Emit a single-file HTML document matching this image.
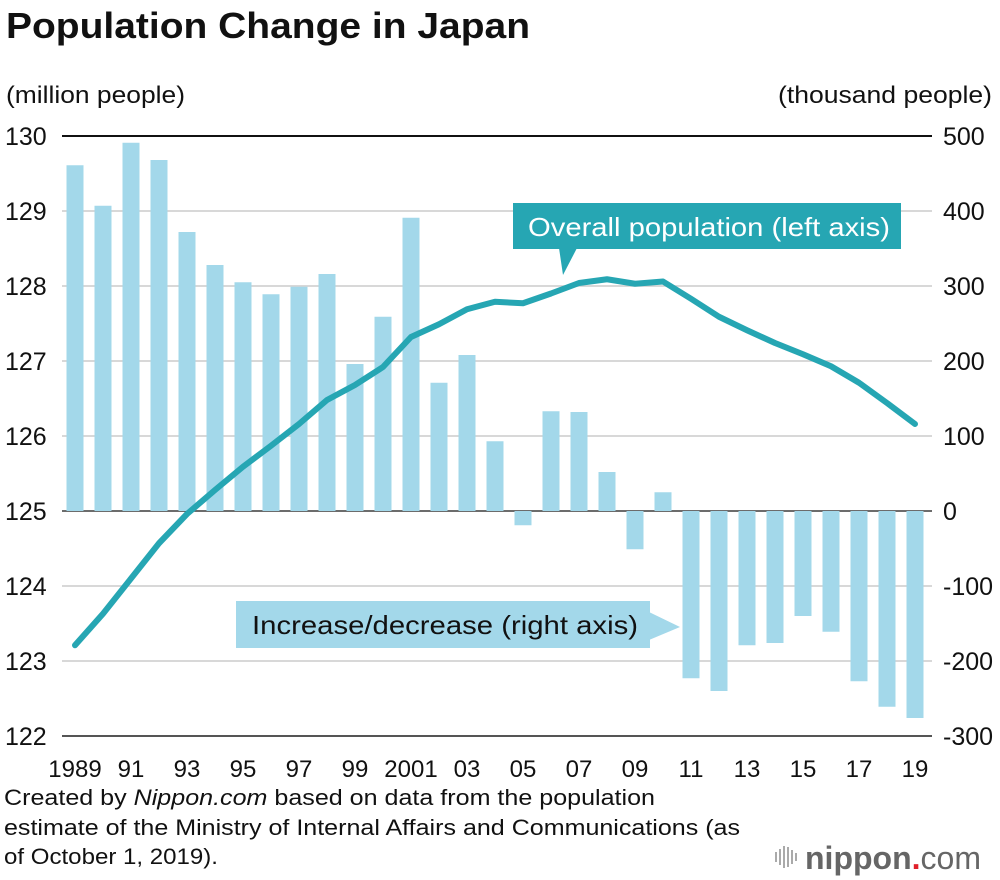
<!DOCTYPE html>
<html><head><meta charset="utf-8"><style>
body{margin:0;background:#fff;font-family:"Liberation Sans",sans-serif;}
svg{display:block}
</style></head><body>
<svg id="c" width="1000" height="880" xmlns="http://www.w3.org/2000/svg" font-family="Liberation Sans, sans-serif">
<text x="6" y="38" font-size="36" font-weight="bold" fill="#111" textLength="524" lengthAdjust="spacingAndGlyphs">Population Change in Japan</text>
<text x="6" y="103" font-size="24" fill="#111" textLength="179" lengthAdjust="spacingAndGlyphs">(million people)</text>
<text x="778" y="103" font-size="24" fill="#111" textLength="214" lengthAdjust="spacingAndGlyphs">(thousand people)</text>
<g id="grid"></g><g id="bars"></g><g id="line"></g><g id="ticks"></g>
<g>
<rect x="513" y="203" width="388" height="46" fill="#26a6b3"/>
<polygon points="559,248 577,248 563,275" fill="#26a6b3"/>
<text x="528" y="236" font-size="26" fill="#fff" textLength="362" lengthAdjust="spacingAndGlyphs">Overall population (left axis)</text>
</g>
<g>
<rect x="236" y="601" width="414" height="47" fill="#a3d8ea"/>
<polygon points="649,612 649,640 680,627" fill="#a3d8ea"/>
<text x="252" y="634" font-size="26" fill="#111" textLength="386" lengthAdjust="spacingAndGlyphs">Increase/decrease (right axis)</text>
</g>
<g font-size="22" fill="#111">
<text x="4" y="805" textLength="651" lengthAdjust="spacingAndGlyphs">Created by <tspan font-style="italic">Nippon.com</tspan> based on data from the population</text>
<text x="4" y="835" textLength="736" lengthAdjust="spacingAndGlyphs">estimate of the Ministry of Internal Affairs and Communications (as</text>
<text x="4" y="864" textLength="214" lengthAdjust="spacingAndGlyphs">of October 1, 2019).</text>
</g>
<g>
<g fill="#aaa"><rect x="775" y="852" width="2" height="10"/><rect x="779" y="849" width="2" height="16"/><rect x="783" y="846" width="2" height="22"/><rect x="787" y="847" width="2" height="20"/><rect x="791" y="850" width="2" height="14"/><rect x="795" y="853" width="2" height="8"/></g>
<text x="805" y="869" font-size="32" fill="#666" font-weight="bold">nippon<tspan fill="#e0202a">.</tspan><tspan font-weight="normal">com</tspan></text>
</g>
</svg>
<script>
const years=[1989,1990,1991,1992,1993,1994,1995,1996,1997,1998,1999,2000,2001,2002,2003,2004,2005,2006,2007,2008,2009,2010,2011,2012,2013,2014,2015,2016,2017,2018,2019];
const change=[461,407,491,468,372,328,305,289,299,316,196,259,391,171,208,93,-19,133,132,52,-51,25,-223,-240,-179,-176,-140,-161,-227,-261,-276];
const population=[123.21,123.63,124.10,124.57,124.96,125.28,125.59,125.87,126.16,126.48,126.68,126.92,127.32,127.49,127.69,127.79,127.77,127.90,128.04,128.09,128.03,128.06,127.83,127.59,127.41,127.24,127.09,126.93,126.71,126.44,126.16];
const leftTicks=[122,123,124,125,126,127,128,129,130];
const rightTicks=[-300,-200,-100,0,100,200,300,400,500];
const xLabels=["1989","91","93","95","97","99","2001","03","05","07","09","11","13","15","17","19"];
const NS="http://www.w3.org/2000/svg";
const x=i=>75+i*28;
const yL=v=>136+(130-v)*75;
const yR=v=>511-v*0.75;
function mk(t,a,p){const e=document.createElementNS(NS,t);for(const k in a)e.setAttribute(k,a[k]);document.getElementById(p).appendChild(e);return e;}
leftTicks.forEach(v=>{
  const dark=(v===130||v===122);
  const g=mk('line',{x1:62,x2:932,y1:yL(v),y2:yL(v),stroke:v===130?'#111':(v===122?'#555':'#ccc'),'stroke-width':dark?2:1.5},'grid');
  
  
  const t=mk('text',{x:5,y:yL(v)+9,'font-size':25,fill:'#111'},'ticks');t.textContent=v;
  
  
});
rightTicks.forEach(v=>{
  const t=mk('text',{x:943,y:yR(v)+9,'font-size':25,fill:'#111'},'ticks');t.textContent=v;
  
  
});
const z=mk('line',{x1:62,x2:932,y1:yR(0),y2:yR(0),stroke:'#444','stroke-width':1.5},'grid');


years.forEach((yr,i)=>{
  const v=change[i];const y0=yR(0),y1=yR(v);
  const b=mk('rect',{x:x(i)-8.5,width:17,y:Math.min(y0,y1),height:Math.abs(y1-y0),fill:'#a3d8ea'},'bars');
  
  
});
xLabels.forEach((l,k)=>{
  const t=mk('text',{x:x(k*2),y:777,'font-size':24,fill:'#111','text-anchor':'middle'},'ticks');t.textContent=l;
  
  
});
const p=mk('polyline',{points:population.map((v,i)=>x(i)+','+yL(v)).join(' '),fill:'none',stroke:'#26a6b3','stroke-width':6,'stroke-linejoin':'round','stroke-linecap':'round'},'line');


</script>
</body></html>
